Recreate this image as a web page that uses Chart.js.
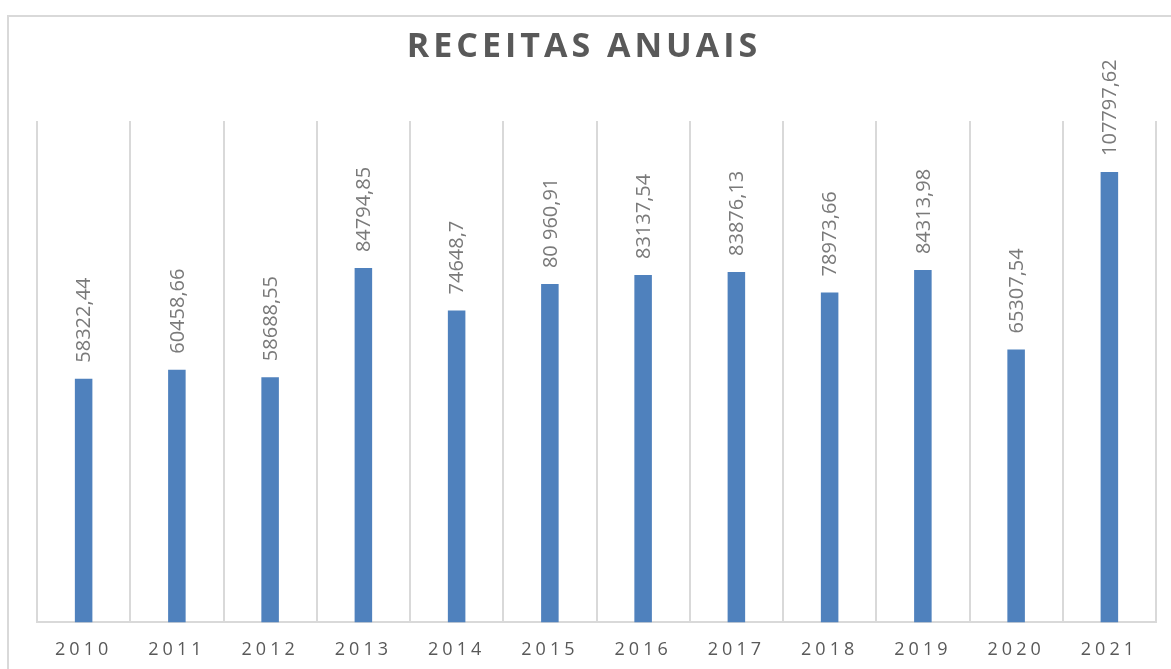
<!DOCTYPE html>
<html>
<head>
<meta charset="utf-8">
<script src="https://cdn.jsdelivr.net/npm/chart.js@4"></script>
<style>
  html, body { margin: 0; padding: 0; background: #fff; overflow: hidden; }
  #wrap { width: 1171px; height: 669px; }
</style>
</head>
<body>
<div id="wrap"><canvas id="receitasChart"></canvas></div>
<script>
const anos = ['2010','2011','2012','2013','2014','2015','2016','2017','2018','2019','2020','2021'];
const receitas = [58322.44, 60458.66, 58688.55, 84794.85, 74648.7, 80960.91, 83137.54, 83876.13, 78973.66, 84313.98, 65307.54, 107797.62];
const rotulos = ['58322,44','60458,66','58688,55','84794,85','74648,7','80 960,91','83137,54','83876,13','78973,66','84313,98','65307,54','107797,62'];
const titulo = 'RECEITAS ANUAIS';

const ctx = document.getElementById('receitasChart').getContext('2d');

// frame + spaced text for title / ticks
const framePlugin = {
    id: 'frame',
    beforeDraw(chart){
        const c = chart.ctx;
        c.save();
        c.strokeStyle = '#d9d9d9';
        c.lineWidth = 2;
        c.strokeRect(8, 16, 1200, 700);
        c.restore();
        c.letterSpacing = '4px';
    },
    beforeDatasetsDraw(chart){
        chart.ctx.letterSpacing = '0px';
    },
    afterDraw(chart){
        const c = chart.ctx;
        c.save();
        c.letterSpacing = '4px';
        c.font = 'bold 34px "Open Sans"';
        c.fillStyle = '#595959';
        c.textAlign = 'center';
        c.textBaseline = 'alphabetic';
        c.fillText(titulo, 584, 57);
        c.restore();
    }
};

const labelPlugin = {
    id: 'valores',
    afterDatasetsDraw(chart){
        const c = chart.ctx;
        const meta = chart.getDatasetMeta(0);
        c.save();
        c.letterSpacing = '0px';
        c.font = '20px "Open Sans"';
        c.fillStyle = '#7a7a7a';
        c.textAlign = 'left';
        c.textBaseline = 'middle';
        meta.data.forEach((bar, i) => {
            c.save();
            c.translate(bar.x, bar.y - 16);
            c.rotate(-Math.PI/2);
            c.fillText(rotulos[i], 0, 1);
            c.restore();
        });
        c.restore();
    }
};

new Chart(ctx, {
    type: 'bar',
    data: {
        labels: anos,
        datasets: [{
            label: 'Receitas',
            data: receitas,
            backgroundColor: '#4f81bd',
            barPercentage: 0.188,
            categoryPercentage: 1
        }]
    },
    options: {
        responsive: true,
        maintainAspectRatio: false,
        animation: false,
        layout: { padding: { top: 121, left: 37, right: 15, bottom: -9 } },
        plugins: {
            legend: { display: false },
            title: { display: false },
            tooltip: { enabled: false }
        },
        scales: {
            x: {
                grid: { color: '#d9d9d9', lineWidth: 2, drawTicks: false, offset: true },
                border: { color: '#d9d9d9', width: 2 },
                ticks: {
                    color: '#595959',
                    font: { family: 'Open Sans', size: 18 },
                    padding: 17,
                    autoSkip: false,
                    maxRotation: 0
                }
            },
            y: {
                display: false,
                min: 0,
                max: 120000
            }
        }
    },
    plugins: [framePlugin, labelPlugin]
});
</script>
</body>
</html>
